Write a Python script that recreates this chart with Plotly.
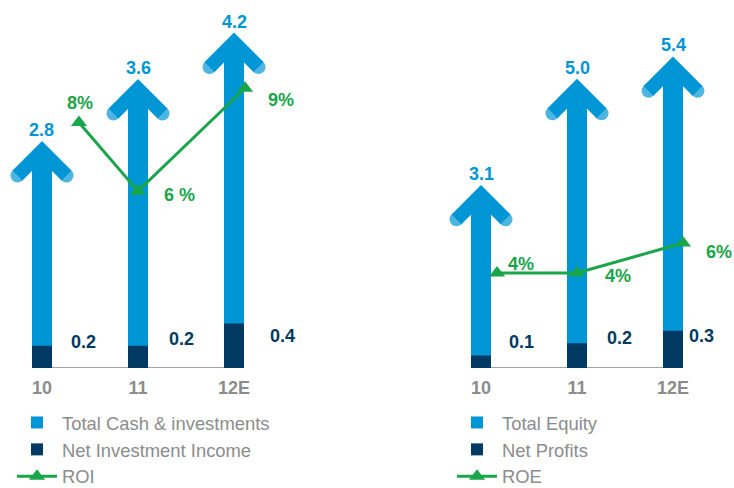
import plotly.graph_objects as go

# ---- data -------------------------------------------------------------
YEARS = ["10", "11", "12E"]

TOTAL_CASH = [2.8, 3.6, 4.2]
NET_INVESTMENT_INCOME = [0.2, 0.2, 0.4]
ROI = [8, 6, 9]
ROI_TEXT = ["8%", "6 %", "9%"]

TOTAL_EQUITY = [3.1, 5.0, 5.4]
NET_PROFITS = [0.1, 0.2, 0.3]
ROE = [4, 4, 6]
ROE_TEXT = ["4%", "4%", "6%"]

# ---- styling ----------------------------------------------------------
LIGHT = "#0096d6"
DARK = "#003a63"
GREEN = "#19a549"
GREY = "#8c8c8c"
AXIS_GREY = "#a3a3a3"
FONT = "Liberation Sans"

W, H = 734, 488
PLOT_H = 368            # px from top of page to the baseline
X_UNIT_PX = 96          # px between two year slots
BAR_PX = 20             # arrow shaft width
ARM_PX = 24.5           # arrow-head arm length (each direction)
HEAD_W = 14             # arrow-head stroke width
BAR_W = BAR_PX / X_UNIT_PX
X_RANGE = [-0.4, 2.6]   # room for arrow heads and markers beyond the bars

IDX = list(range(len(YEARS)))

panels = [
    dict(
        xa="x", ya=("y", "y2", "y3"), legend="legend",
        first_center_px=42, legend_x_px=12,
        big=TOTAL_CASH, small=NET_INVESTMENT_INCOME, pct=ROI, pct_text=ROI_TEXT,
        names=("Total Cash & investments", "Net Investment Income", "ROI"),
        big_scale=77.5, small_scale=111.0,
        pct_scale=34.3, pct_anchor=(7.667, 234.0),
        line_shift=[0.385, 0.0, 0.115],
        pct_label_shift=[(1, 20), (41, -4), (36, -12)],
        small_label_shift=[(41, 26), (43, 29), (48, 32)],
    ),
    dict(
        xa="x2", ya=("y4", "y5", "y6"), legend="legend2",
        first_center_px=481, legend_x_px=452,
        big=TOTAL_EQUITY, small=NET_PROFITS, pct=ROE, pct_text=ROE_TEXT,
        names=("Total Equity", "Net Profits", "ROE"),
        big_scale=55.86, small_scale=124.0,
        pct_scale=15.0, pct_anchor=(4.0, 95.0),
        line_shift=[0.167, 0.0, 0.104],
        pct_label_shift=[(24, 9), (41, -3), (36, -9)],
        small_label_shift=[(40, 26), (42, 30), (28, 32)],
    ),
]

fig = go.Figure()
annotations = []
shapes = []
layout = {}

for p in panels:
    ya_big, ya_small, ya_pct = p["ya"]
    name_big, name_small, name_pct = p["names"]

    # arrow shafts
    fig.add_trace(go.Bar(
        x=IDX, y=p["big"], width=BAR_W, marker=dict(color=LIGHT, line=dict(width=0)),
        name=name_big, xaxis=p["xa"], yaxis=ya_big, legend=p["legend"],
        hoverinfo="skip",
    ))

    # arrow heads (chevrons with rounded ends)
    dx = ARM_PX / X_UNIT_PX
    dy = ARM_PX / p["big_scale"]
    hx, hy, hs = [], [], []
    for i, v in zip(IDX, p["big"]):
        hx += [i - dx, i, i + dx, None]
        hy += [v - dy, v, v - dy, None]
        hs += [HEAD_W, 0, HEAD_W, 0]
    fig.add_trace(go.Scatter(
        x=hx, y=hy, mode="lines+markers",
        line=dict(color=LIGHT, width=HEAD_W),
        marker=dict(color=LIGHT, size=hs, line=dict(width=0)),
        xaxis=p["xa"], yaxis=ya_big, showlegend=False, hoverinfo="skip",
        cliponaxis=False,
    ))

    # base segments
    fig.add_trace(go.Bar(
        x=IDX, y=p["small"], width=BAR_W, marker=dict(color=DARK, line=dict(width=0)),
        name=name_small, xaxis=p["xa"], yaxis=ya_small, legend=p["legend"],
        hoverinfo="skip",
    ))

    # return ratio line
    lx = [i + s for i, s in zip(IDX, p["line_shift"])]
    fig.add_trace(go.Scatter(
        x=lx, y=p["pct"], mode="lines+markers",
        line=dict(color=GREEN, width=3),
        marker=dict(symbol="triangle-up", size=14, color=GREEN),
        name=name_pct, xaxis=p["xa"], yaxis=ya_pct, legend=p["legend"],
        cliponaxis=False, hoverinfo="skip",
    ))

    # value labels above arrows
    for i, v in zip(IDX, p["big"]):
        annotations.append(dict(
            x=i, y=v, xref=p["xa"], yref=ya_big, text=f"{v:.1f}",
            showarrow=False, yanchor="middle", yshift=21,
            font=dict(family=FONT, size=18, color=LIGHT, weight="bold"),
        ))
    # labels next to base segments
    for i, v, (sx, sy) in zip(IDX, p["small"], p["small_label_shift"]):
        annotations.append(dict(
            x=i, y=0, xref=p["xa"], yref=ya_small, text=f"{v:.1f}",
            showarrow=False, yanchor="middle", xshift=sx, yshift=sy,
            font=dict(family=FONT, size=18, color=DARK, weight="bold"),
        ))
    # ratio labels
    for x, v, t, (sx, sy) in zip(lx, p["pct"], p["pct_text"], p["pct_label_shift"]):
        annotations.append(dict(
            x=x, y=v, xref=p["xa"], yref=ya_pct, text=t,
            showarrow=False, yanchor="middle", xshift=sx, yshift=sy,
            font=dict(family=FONT, size=18, color=GREEN, weight="bold"),
        ))

    # baseline spanning the outer edges of the bars
    shapes.append(dict(
        type="line", xref=p["xa"], yref=ya_big,
        x0=IDX[0] - BAR_W / 2, x1=IDX[-1] + BAR_W / 2, y0=0, y1=0,
        line=dict(color=AXIS_GREY, width=2), layer="below",
    ))

    # axes
    x0 = (p["first_center_px"] + X_RANGE[0] * X_UNIT_PX) / W
    x1 = (p["first_center_px"] + X_RANGE[1] * X_UNIT_PX) / W
    xkey = "xaxis" if p["xa"] == "x" else "xaxis" + p["xa"][1:]
    ykeys = ["yaxis" if a == "y" else "yaxis" + a[1:] for a in p["ya"]]
    layout[xkey] = dict(
        domain=[x0, x1], anchor=ya_big, range=X_RANGE,
        tickvals=IDX, ticktext=YEARS, ticks="", ticklabelstandoff=7,
        tickfont=dict(family=FONT, size=18, color=GREY, weight="bold"),
        showgrid=False, zeroline=False, showline=False,
        fixedrange=True,
    )
    lo_v, lo_px = p["pct_anchor"]
    pct_lo = lo_v - lo_px / p["pct_scale"]
    layout[ykeys[0]] = dict(anchor=p["xa"], domain=[0, 1],
                            range=[0, PLOT_H / p["big_scale"]], visible=False)
    layout[ykeys[1]] = dict(anchor=p["xa"], overlaying=ya_big,
                            range=[0, PLOT_H / p["small_scale"]], visible=False)
    layout[ykeys[2]] = dict(anchor=p["xa"], overlaying=ya_big,
                            range=[pct_lo, pct_lo + PLOT_H / p["pct_scale"]], visible=False)

    layout[p["legend"]] = dict(
        x=p["legend_x_px"] / W, y=(H - 404) / H,
        xref="container", yref="container",
        xanchor="left", yanchor="top",
        font=dict(family=FONT, size=18.4, color=GREY),
        bgcolor="rgba(0,0,0,0)", tracegroupgap=0, itemwidth=40,
    )

fig.update_layout(
    width=W, height=H,
    margin=dict(l=0, r=0, t=0, b=H - PLOT_H, autoexpand=False),
    paper_bgcolor="white", plot_bgcolor="white",
    barmode="overlay",
    showlegend=True,
    annotations=annotations,
    shapes=shapes,
    **layout,
)

fig.write_html("out.html")
